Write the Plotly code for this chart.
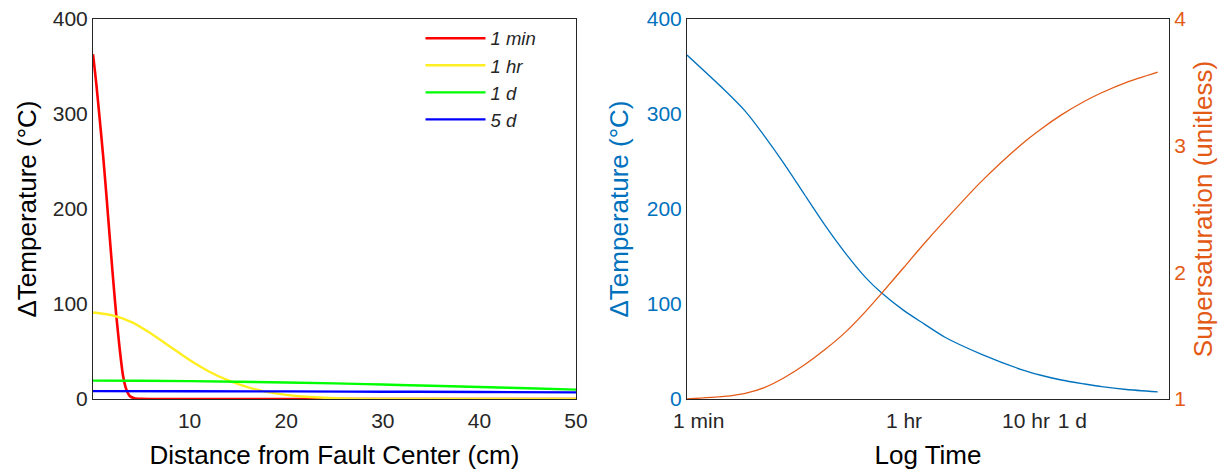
import plotly.graph_objects as go

# ---------------- Left panel data: temperature profiles ----------------
dist_red = [0, 0.2, 0.35, 0.7, 1.05, 1.4, 1.75, 2.1, 2.4, 2.75, 3.1, 3.45, 3.8, 4.3, 5.0, 6.0, 10, 20, 30, 40, 50]
temp_1min = [363, 345, 331, 294, 256, 213, 168, 124, 89, 54, 25, 10, 3.2, 0.7, 0.1, 0, 0, 0, 0, 0, 0]

dist_yel = [0, 2, 4, 6, 8, 10, 12, 14, 16, 18, 20, 22, 25, 30, 35, 40, 50]
temp_1hr = [91, 88, 81, 69, 55, 41, 29, 19.5, 12.5, 7.5, 4.3, 2.4, 0.9, 0.15, 0.02, 0, 0]

dist_grn = [0, 5, 10, 15, 20, 25, 30, 35, 40, 45, 50]
temp_1d = [19.3, 19.2, 18.8, 18.2, 17.4, 16.4, 15.2, 14.0, 12.7, 11.3, 9.9]

dist_blu = [0, 10, 20, 30, 40, 50]
temp_5d = [8.3, 8.2, 8.0, 7.7, 7.4, 7.0]

# ---------------- Right panel data: vs log time ----------------
time_min = [1, 2, 3, 4.3, 6.3, 9.2, 13.5, 20, 29, 39, 60, 83, 130, 260, 550, 794, 1170, 1780, 2500, 4000, 7200]
peak_temp = [362, 326, 303, 277, 247, 215, 183, 153, 128, 112, 93, 81, 65, 47, 31, 25, 20, 16, 13, 10, 7.5]
supersat = [1.0, 1.02, 1.045, 1.09, 1.17, 1.27, 1.39, 1.53, 1.69, 1.83, 2.04, 2.20, 2.41, 2.72, 3.01, 3.13, 3.243, 3.347, 3.418, 3.50, 3.58]

time_tickvals = [1, 60, 600, 1440]
time_ticktext = ["\u00a0\u00a0\u00a0\u00a01 min", "1 hr", "10 hr", "1 d"]

BLUE = "#0072BD"
ORANGE = "#E35A17"
DARK = "#262626"
FONT = "Liberation Sans, Arial, sans-serif"

fig = go.Figure()

fig.add_trace(go.Scatter(x=dist_red, y=temp_1min, mode="lines", name="<i>1 min</i>",
                         line=dict(color="#FF0000", width=2.6, shape="spline", smoothing=0.6), xaxis="x", yaxis="y"))
fig.add_trace(go.Scatter(x=dist_yel, y=temp_1hr, mode="lines", name="<i>1 hr</i>",
                         line=dict(color="#FFEE22", width=2.4, shape="spline", smoothing=0.8), xaxis="x", yaxis="y"))
fig.add_trace(go.Scatter(x=dist_grn, y=temp_1d, mode="lines", name="<i>1 d</i>",
                         line=dict(color="#00FF00", width=2.4, shape="spline"), xaxis="x", yaxis="y"))
fig.add_trace(go.Scatter(x=dist_blu, y=temp_5d, mode="lines", name="<i>5 d</i>",
                         line=dict(color="#0000FF", width=2.4, shape="spline"), xaxis="x", yaxis="y"))

fig.add_trace(go.Scatter(x=time_min, y=peak_temp, mode="lines", showlegend=False,
                         line=dict(color=BLUE, width=1.3, shape="spline", smoothing=0.6), xaxis="x2", yaxis="y2"))
fig.add_trace(go.Scatter(x=time_min, y=supersat, mode="lines", showlegend=False,
                         line=dict(color=ORANGE, width=1.3, shape="spline", smoothing=0.6), xaxis="x2", yaxis="y3"))

ydom = [71 / 470, 451 / 470]
axis_common = dict(showgrid=False, zeroline=False, showline=True, linecolor=DARK, linewidth=1,
                   ticks="", automargin=False)

fig.update_layout(
    width=1226, height=470,
    margin=dict(l=0, r=0, t=0, b=0),
    paper_bgcolor="white", plot_bgcolor="white",
    font=dict(family=FONT, color=DARK, size=21),
    xaxis=dict(domain=[93 / 1226, 576 / 1226], range=[0, 50], tickvals=[10, 20, 30, 40, 50],
               mirror=True, anchor="y", ticklabelstandoff=3,
               title=dict(text="Distance from Fault Center (cm)", font=dict(size=26, color="#000000"), standoff=14),
               tickfont=dict(size=21, color=DARK), **axis_common),
    yaxis=dict(domain=ydom, range=[0, 400], tickvals=[0, 100, 200, 300, 400], mirror=True, anchor="x",
               title=dict(text="\u0394Temperature (\u00b0C)", font=dict(size=26, color="#000000"), standoff=8),
               tickfont=dict(size=21, color=DARK), **axis_common),
    xaxis2=dict(domain=[687 / 1226, 1169 / 1226], type="log", range=[0, 3.95],
                tickvals=time_tickvals, ticktext=time_ticktext, mirror=True, anchor="y2", ticklabelstandoff=3,
                title=dict(text="Log Time", font=dict(size=26, color="#000000"), standoff=14),
                tickfont=dict(size=21, color=DARK), **axis_common),
    yaxis2=dict(domain=ydom, range=[0, 400], tickvals=[0, 100, 200, 300, 400], anchor="x2", side="left",
                title=dict(text="\u0394Temperature (\u00b0C)", font=dict(size=26, color=BLUE), standoff=10),
                tickfont=dict(size=21, color=BLUE), **axis_common),
    yaxis3=dict(domain=ydom, range=[1, 4], tickvals=[1, 2, 3, 4], anchor="x2", overlaying="y2", side="right",
                title=dict(text="Supersaturation (unitless)", font=dict(size=26, color=ORANGE), standoff=8),
                tickfont=dict(size=21, color=ORANGE), **axis_common),
    legend=dict(x=0.343, y=0.958, xanchor="left", yanchor="top", bgcolor="rgba(0,0,0,0)",
                font=dict(size=18.5, color=DARK, family=FONT), itemwidth=60),
    showlegend=True,
)

fig.write_html("out.html")
